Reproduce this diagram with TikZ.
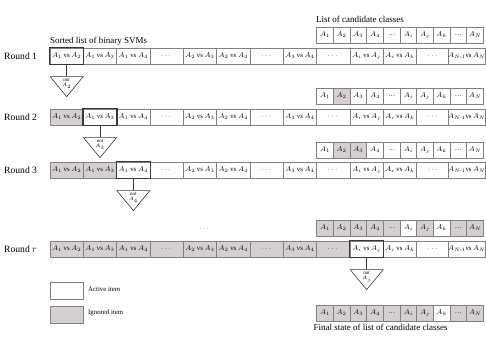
\documentclass[tikz,border=0pt]{standalone}
\usepackage{amsmath}
\usepackage{fontspec}
\setmainfont{Liberation Serif}
\usetikzlibrary{shapes.geometric,positioning}
\definecolor{ignored}{RGB}{213,207,208}
\definecolor{rim}{RGB}{128,128,128}
\definecolor{rimdark}{RGB}{55,55,55}
\tikzset{
  svm/.style={draw=rim, line width=0.7pt, minimum width=33.33pt, minimum height=16pt,
    inner sep=0pt, font=\fontsize{6.8}{7}\selectfont},
  cls/.style={svm, minimum width=16.67pt},
  activeframe/.style={draw=rimdark, line width=1.3pt},
  caption/.style={font=\fontsize{9}{10}\selectfont, inner sep=0pt},
  roundlbl/.style={font=\fontsize{9.6}{10}\selectfont, inner sep=0pt, anchor=west},
  keylbl/.style={font=\fontsize{6.8}{8}\selectfont, inner sep=0pt, anchor=west},
  notri/.style={isosceles triangle, shape border rotate=-90, isosceles triangle stretches,
    minimum width=33pt, minimum height=20pt, inner sep=0pt, draw=rimdark, line width=0.6pt, fill=white},
  nottxt/.style={font=\fontsize{5}{5.5}\selectfont, align=center, inner sep=0pt},
  link/.style={draw=rimdark, line width=0.8pt}
}

\begin{document}
\begin{tikzpicture}[x=1pt,y=-1pt]
  \useasboundingbox (0,0) rectangle (486,347);

  % --- titoli delle due liste ----------------------------------------------
  \node[caption, anchor=west] (svmtitle) at (50,41) {Sorted list of binary SVMs};
  \node[caption, anchor=west] (clstitle) at (316,19) {List of candidate classes};

  % --- liste ordinate delle SVM, una per round (g = celle ignorate) --------
  \foreach \rw/\lbl/\yy/\g in {m1/1/56/0, m2/2/117/1, m3/3/170/2, mr/$r$/249/9} {
    \node[roundlbl] (\rw-name) at (4,\yy) {Round \lbl};
    \foreach \k/\lab in {1/{$A_1$ vs $A_2$}, 2/{$A_1$ vs $A_3$}, 3/{$A_1$ vs $A_4$}, 4/$\cdots$,
        5/{$A_2$ vs $A_3$}, 6/{$A_2$ vs $A_4$}, 7/$\cdots$, 8/{$A_3$ vs $A_4$}, 9/$\cdots$,
        10/{$A_i$ vs $A_j$}, 11/{$A_i$ vs $A_k$}, 12/$\cdots$, 13/{$A_{N\text{-}1}$vs\,$A_N$}} {
      \ifnum\k>\g \def\fc{white}\else\def\fc{ignored}\fi
      \node[svm, fill=\fc] (\rw-\k) at (50+\k*33.333-16.667,\yy) {\lab};
    }
    \pgfmathtruncatemacro{\t}{\g+1}
    \draw[activeframe] (\rw-\t.north west) rectangle (\rw-\t.south east);
  }

  % --- liste delle classi candidate (1 = ignorata) -------------------------
  \foreach \rw/\yy/\flags in {c1/35/{{0,0,0,0,0,0,0,0,0,0}}, c2/96/{{0,1,0,0,0,0,0,0,0,0}},
      c3/150/{{0,1,1,0,0,0,0,0,0,0}}, cr/228/{{1,1,1,1,1,0,1,0,1,1}},
      cf/313/{{1,1,1,1,1,1,1,0,1,1}}} {
    \foreach \k/\lab in {1/$A_1$, 2/$A_2$, 3/$A_3$, 4/$A_4$, 5/\dots, 6/$A_i$, 7/$A_j$,
        8/$A_k$, 9/\dots, 10/$A_N$} {
      \pgfmathtruncatemacro{\isgray}{\flags[\k-1]}
      \ifnum\isgray=1 \def\fc{ignored}\else\def\fc{white}\fi
      \node[cls, fill=\fc] (\rw-\k) at (316.67+\k*16.667-8.333,\yy) {\lab};
    }
  }
  \node[caption, anchor=north west] (finaltitle) at ([xshift=-3pt,yshift=-3pt]cf-1.south west)
    {Final state of list of candidate classes};

  % --- test "not" sotto la SVM attiva --------------------------------------
  \foreach \rw/\c/\cls in {m1/1/2, m2/2/3, m3/3/4, mr/10/j} {
    \node[notri, below=12pt of \rw-\c] (\rw-tri) {};
    \draw[link] (\rw-\c) -- (\rw-tri);
    \node[nottxt, below=2pt of \rw-tri.lower side] (\rw-not) {not\\$A_{\cls}$};
  }

  % --- round intermedi omessi ----------------------------------------------
  \node[font=\fontsize{6}{6}\selectfont] (skip) at (205,229) {$\cdots$};

  % --- legenda -------------------------------------------------------------
  \node[svm, fill=white, minimum height=17pt] (keyact) at (66.67,291) {};
  \node[svm, fill=ignored, minimum height=17pt] (keyign) at (66.67,315) {};
  \node[keylbl] (keyacttxt) at (88,289) {Active item};
  \node[keylbl] (keyigntxt) at (88,313) {Ignored item};

\end{tikzpicture}
\end{document}
